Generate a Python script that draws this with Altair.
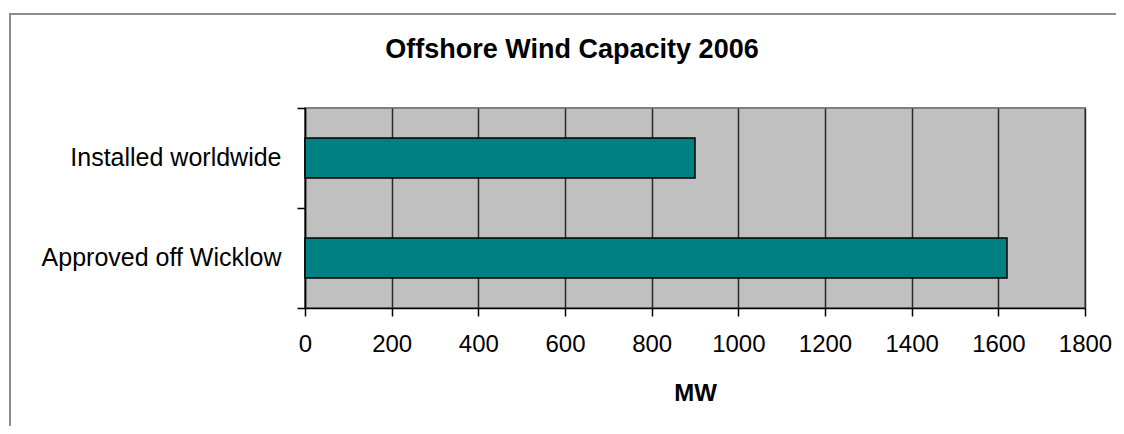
import altair as alt
import pandas as pd

categories = ["Installed worldwide", "Approved off Wicklow"]
capacity_mw = [900, 1620]
x_ticks = [0, 200, 400, 600, 800, 1000, 1200, 1400, 1600, 1800]
band_boundaries = [0, 1, 2]

df = pd.DataFrame({"category": categories, "mw": capacity_mw})

FONT = "Liberation Sans"

bars = alt.Chart(df).mark_bar(
    color="#008080", stroke="#000000", strokeWidth=1.5
).encode(
    x=alt.X(
        "mw:Q",
        scale=alt.Scale(domain=[0, 1800], nice=False, zero=True),
        axis=alt.Axis(
            values=x_ticks,
            format="d",
            title="MW",
            titleFont=FONT,
            titleFontSize=24,
            titleFontWeight="bold",
            titleColor="#000000",
            titleY=92,
            titleBaseline="alphabetic",
            labelFont=FONT,
            labelFontSize=24,
            labelColor="#000000",
            labelPadding=16,
            tickSize=8,
            tickColor="#000000",
            tickWidth=1.5,
            domainColor="#000000",
            domainWidth=1.5,
            grid=True,
            gridColor="#2a2a2a",
            gridWidth=1.5,
            labelFlush=False,
        ),
    ),
    y=alt.Y(
        "category:N",
        sort=None,
        scale=alt.Scale(paddingInner=0.6, paddingOuter=0.3),
        axis=alt.Axis(
            orient="left",
            title=None,
            labelFont=FONT,
            labelFontSize=25,
            labelColor="#000000",
            labelLimit=0,
            labelPadding=24,
            ticks=False,
            tickSize=0,
            domainColor="#000000",
            domainWidth=1.5,
            grid=False,
        ),
    ),
)

tick_layer = alt.Chart(pd.DataFrame({"v": band_boundaries})).mark_point(
    opacity=0
).encode(
    y=alt.Y(
        "v:Q",
        scale=alt.Scale(domain=[0, 2], nice=False, zero=False),
        axis=alt.Axis(
            orient="left",
            title=None,
            values=band_boundaries,
            labels=False,
            domain=False,
            grid=False,
            ticks=True,
            tickSize=8,
            tickColor="#000000",
            tickWidth=1.5,
        ),
    ),
)

frame = alt.Chart(pd.DataFrame({"f": [0]})).mark_rect(
    filled=False, stroke="#8c8c8c", strokeWidth=2
).encode(
    x=alt.value(-295), x2=alt.value(1000),
    y=alt.value(-94), y2=alt.value(600),
)

chart = alt.layer(frame, bars, tick_layer).resolve_scale(
    y="independent"
).properties(
    width=780,
    height=200,
    padding={"left": 297, "top": 100, "right": 31, "bottom": 118},
    autosize=alt.AutoSizeParams(type="none"),
    background="#ffffff",
    title=alt.TitleParams(
        "Offshore Wind Capacity 2006",
        font=FONT,
        fontSize=27,
        fontWeight="bold",
        color="#000000",
        anchor="middle",
        dx=-123,
        dy=96,
        offset=45,
    ),
).configure_view(
    fill="#c0c0c0", stroke="#808080", strokeWidth=2
)

chart.save("out.html", embed_options={"renderer": "svg", "actions": False})
